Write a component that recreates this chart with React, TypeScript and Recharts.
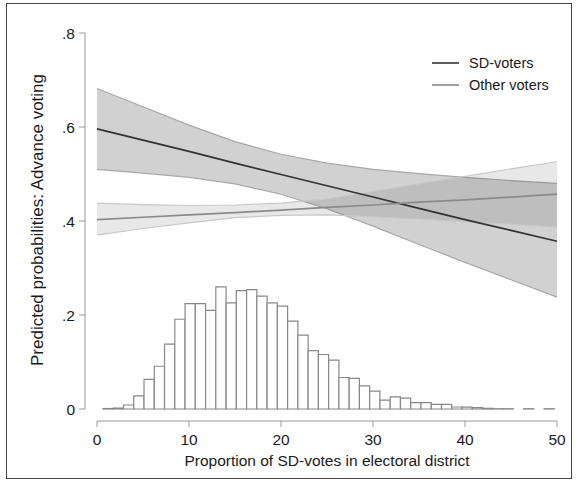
import {
  ComposedChart,
  Area,
  Line,
  XAxis,
  YAxis,
  ReferenceArea,
  Legend,
} from "recharts";

const FONT = '"Liberation Sans", Arial, Helvetica, sans-serif';

// margins evaluated at these SD-vote shares
const xPoints = [0, 5, 10, 15, 20, 25, 30, 35, 40, 45, 50];
const sdMean = [0.596, 0.572, 0.548, 0.523, 0.499, 0.475, 0.451, 0.427, 0.403, 0.38, 0.357];
const sdLow = [0.51, 0.502, 0.493, 0.479, 0.457, 0.426, 0.389, 0.35, 0.312, 0.275, 0.238];
const sdHigh = [0.682, 0.643, 0.604, 0.569, 0.542, 0.523, 0.51, 0.501, 0.493, 0.486, 0.48];
const otherMean = [0.403, 0.408, 0.413, 0.418, 0.423, 0.429, 0.434, 0.44, 0.445, 0.451, 0.457];
const otherLow = [0.37, 0.384, 0.396, 0.407, 0.412, 0.413, 0.409, 0.404, 0.398, 0.393, 0.387];
const otherHigh = [0.438, 0.435, 0.433, 0.434, 0.438, 0.447, 0.463, 0.479, 0.495, 0.511, 0.526];

// histogram of districts
const binStart = 0.65;
const binWidth = 1.115;
const histHeights = [
  0.001, 0.002, 0.0085, 0.028, 0.063, 0.091, 0.138, 0.191, 0.224, 0.224,
  0.21, 0.26, 0.226, 0.252, 0.254, 0.24, 0.226, 0.219, 0.187, 0.157,
  0.124, 0.116, 0.104, 0.067, 0.065, 0.049, 0.038, 0.019, 0.026, 0.023,
  0.0135, 0.0135, 0.01, 0.01, 0.0043, 0.004, 0.003, 0.0015, 0.0006, 0.0006,
  0, 0.0006, 0, 0.0006,
];

const xTicks = [0, 10, 20, 30, 40, 50];
const yTicks = [0, 0.2, 0.4, 0.6, 0.8];
const yTickLabels = ["0", ".2", ".4", ".6", ".8"];

const seriesNames = ["SD-voters", "Other voters"];
const lineColors = ["#333333", "#8a8a8a"];

const data = xPoints.map((x, i) => ({
  x,
  sd: sdMean[i],
  sdBand: [sdLow[i], sdHigh[i]],
  other: otherMean[i],
  otherBand: [otherLow[i], otherHigh[i]],
}));

const bins = histHeights
  .map((h, i) => ({ x1: binStart + i * binWidth, x2: binStart + (i + 1) * binWidth, h }))
  .filter((b) => b.h > 0);

function VoterLegend() {
  return (
    <div style={{ fontFamily: FONT, fontSize: 14.5, color: "#1a1a1a" }}>
      {seriesNames.map((name, i) => (
        <div key={name} style={{ display: "flex", alignItems: "center", height: 21.7 }}>
          <svg width={27} height={4} style={{ marginRight: 10 }}>
            <line x1={0} x2={27} y1={2} y2={2} stroke={lineColors[i]} strokeWidth={1.6} />
          </svg>
          <span>{name}</span>
        </div>
      ))}
    </div>
  );
}

export default function App() {
  return (
    <div style={{ position: "absolute", left: 0, top: 0, width: 577, height: 489, background: "#fff" }}>
      <div
        style={{
          position: "absolute",
          left: 6,
          top: 3,
          width: 566,
          height: 476,
          boxSizing: "border-box",
          border: "1px solid #444",
        }}
      />
      <ComposedChart
        width={577}
        height={489}
        data={data}
        margin={{ top: 33, right: 20, bottom: 18, left: 25 }}
        style={{ fontFamily: FONT }}
      >
        <XAxis
          dataKey="x"
          type="number"
          domain={[0, 50]}
          ticks={xTicks}
          interval={0}
          height={50}
          padding={{ left: 12, right: 0 }}
          axisLine={{ stroke: "#999", strokeDasharray: "0 12 1000" }}
          tickLine={{ stroke: "#999" }}
          tickSize={6}
          tickMargin={7}
          tick={{ fill: "#1a1a1a", fontSize: 15.5 }}
          label={{
            value: "Proportion of SD-votes in electoral district",
            position: "insideBottom",
            offset: 5,
            dx: 6,
            style: { fill: "#1a1a1a", fontSize: 15.5 },
          }}
        />
        <YAxis
          type="number"
          domain={[0, 0.8]}
          ticks={yTicks}
          interval={0}
          width={60}
          padding={{ top: 0, bottom: 12 }}
          axisLine={{ stroke: "#999", strokeDasharray: "376 100" }}
          tickLine={{ stroke: "#999" }}
          tickSize={6}
          tickMargin={4}
          tickFormatter={(v: number) => yTickLabels[yTicks.indexOf(v)] ?? String(v)}
          tick={{ fill: "#1a1a1a", fontSize: 15.5 }}
          label={{
            value: "Predicted probabilities: Advance voting",
            angle: -90,
            position: "insideLeft",
            offset: 12,
            dy: -7,
            textAnchor: "middle",
            style: { fill: "#1a1a1a", fontSize: 17 },
          }}
        />
        {bins.map((b, i) => (
          <ReferenceArea
            key={i}
            x1={b.x1}
            x2={b.x2}
            y1={0}
            y2={b.h}
            fill="#fff"
            fillOpacity={1}
            stroke="#888"
            strokeWidth={1.2}
          />
        ))}
        <Area
          type="linear"
          dataKey="sdBand"
          stroke="#a8a8a8"
          strokeWidth={1.2}
          fill="#000"
          fillOpacity={0.18}
          legendType="none"
          isAnimationActive={false}
        />
        <Area
          type="linear"
          dataKey="otherBand"
          stroke="#c8c8c8"
          strokeWidth={1.2}
          fill="#000"
          fillOpacity={0.09}
          legendType="none"
          isAnimationActive={false}
        />
        <Line
          type="linear"
          dataKey="sd"
          name={seriesNames[0]}
          stroke={lineColors[0]}
          strokeWidth={1.7}
          dot={false}
          activeDot={false}
          isAnimationActive={false}
        />
        <Line
          type="linear"
          dataKey="other"
          name={seriesNames[1]}
          stroke={lineColors[1]}
          strokeWidth={1.7}
          dot={false}
          activeDot={false}
          isAnimationActive={false}
        />
        <Legend
          layout="vertical"
          align="center"
          verticalAlign="middle"
          wrapperStyle={{ left: 432, top: 52, width: "auto" }}
          content={() => <VoterLegend />}
        />
      </ComposedChart>
    </div>
  );
}
